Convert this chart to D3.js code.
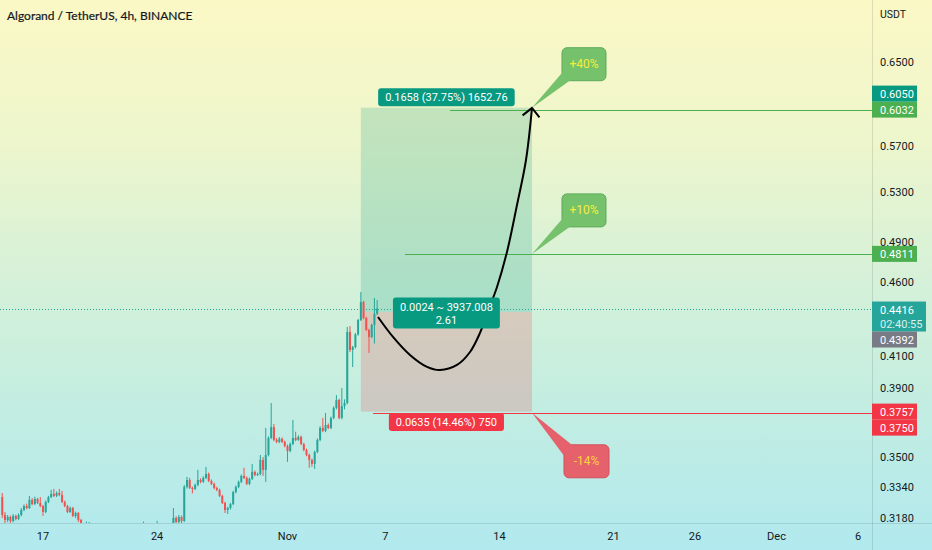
<!DOCTYPE html>
<html>
<head>
<meta charset="utf-8">
<script src="https://cdn.jsdelivr.net/npm/d3@7"></script>
<style>
  html, body { margin: 0; padding: 0; }
  body { width: 932px; height: 550px; overflow: hidden; }
  svg { display: block; }
</style>
</head>
<body>
<svg id="chart" width="932" height="550"></svg>
<script>
// ---- data ----
const title = "Algorand / TetherUS, 4h, BINANCE"
const quote = "USDT"
const firstBar = "2022-10-14T12:00:00Z"   // 4h bars from here
// [open, high, low, close]
const ohlc = [
  [0.3286,0.3307,0.3180,0.3195],[0.3195,0.3210,0.3151,0.3170],[0.3170,0.3195,0.3160,0.3185],[0.3185,0.3192,0.3155,0.3165],
  [0.3165,0.3200,0.3158,0.3190],[0.3190,0.3196,0.3168,0.3175],[0.3175,0.3203,0.3170,0.3195],[0.3195,0.3230,0.3188,0.3220],
  [0.3220,0.3248,0.3214,0.3240],[0.3240,0.3252,0.3224,0.3230],[0.3230,0.3292,0.3225,0.3271],[0.3271,0.3281,0.3244,0.3250],
  [0.3250,0.3288,0.3245,0.3276],[0.3276,0.3282,0.3250,0.3256],[0.3256,0.3286,0.3234,0.3240],[0.3240,0.3246,0.3190,0.3210],
  [0.3210,0.3268,0.3204,0.3261],[0.3261,0.3292,0.3255,0.3286],[0.3286,0.3323,0.3280,0.3302],[0.3302,0.3328,0.3286,0.3292],
  [0.3292,0.3315,0.3286,0.3307],[0.3307,0.3328,0.3290,0.3297],[0.3297,0.3318,0.3255,0.3261],[0.3261,0.3268,0.3234,0.3240],
  [0.3240,0.3246,0.3204,0.3210],[0.3210,0.3238,0.3205,0.3230],[0.3230,0.3236,0.3185,0.3190],[0.3190,0.3212,0.3180,0.3205],
  [0.3205,0.3210,0.3160,0.3170],[0.3170,0.3176,0.3130,0.3141],[0.3141,0.3150,0.3110,0.3118],[0.3118,0.3162,0.3105,0.3125],
  [0.3125,0.3160,0.3112,0.3130],[0.3130,0.3145,0.3095,0.3102],[0.3102,0.3120,0.3080,0.3088],[0.3088,0.3105,0.3070,0.3095],
  [0.3095,0.3112,0.3082,0.3090],[0.3090,0.3098,0.3060,0.3068],[0.3068,0.3085,0.3052,0.3078],[0.3078,0.3096,0.3070,0.3085],
  [0.3085,0.3100,0.3066,0.3072],[0.3072,0.3080,0.3040,0.3050],[0.3050,0.3088,0.3035,0.3080],[0.3080,0.3095,0.3064,0.3070],
  [0.3070,0.3082,0.3048,0.3058],[0.3058,0.3076,0.3045,0.3068],[0.3068,0.3092,0.3060,0.3086],[0.3086,0.3104,0.3075,0.3094],
  [0.3094,0.3112,0.3080,0.3088],[0.3088,0.3118,0.3082,0.3108],[0.3108,0.3130,0.3096,0.3120],[0.3120,0.3138,0.3102,0.3112],
  [0.3112,0.3162,0.3105,0.3132],[0.3132,0.3145,0.3110,0.3118],[0.3118,0.3128,0.3092,0.3100],[0.3100,0.3124,0.3090,0.3115],
  [0.3115,0.3135,0.3106,0.3126],[0.3126,0.3166,0.3118,0.3136],[0.3136,0.3148,0.3112,0.3120],[0.3120,0.3132,0.3098,0.3108],
  [0.3108,0.3126,0.3094,0.3118],[0.3118,0.3140,0.3110,0.3128],[0.3128,0.3142,0.3116,0.3131],[0.3131,0.3230,0.3121,0.3180],
  [0.3180,0.3188,0.3150,0.3160],[0.3160,0.3195,0.3155,0.3185],[0.3185,0.3192,0.3155,0.3165],[0.3165,0.3349,0.3160,0.3339],
  [0.3339,0.3392,0.3330,0.3375],[0.3375,0.3386,0.3328,0.3333],[0.3333,0.3340,0.3305,0.3328],[0.3328,0.3356,0.3322,0.3349],
  [0.3349,0.3429,0.3342,0.3375],[0.3375,0.3384,0.3358,0.3365],[0.3365,0.3395,0.3360,0.3386],[0.3386,0.3445,0.3380,0.3407],
  [0.3407,0.3415,0.3364,0.3370],[0.3370,0.3378,0.3348,0.3354],[0.3354,0.3362,0.3326,0.3333],[0.3333,0.3340,0.3316,0.3323],
  [0.3323,0.3330,0.3286,0.3292],[0.3292,0.3298,0.3250,0.3256],[0.3256,0.3262,0.3205,0.3220],[0.3220,0.3236,0.3200,0.3230],
  [0.3230,0.3256,0.3222,0.3250],[0.3250,0.3318,0.3244,0.3312],[0.3312,0.3346,0.3305,0.3339],[0.3339,0.3372,0.3332,0.3365],
  [0.3365,0.3404,0.3358,0.3397],[0.3397,0.3440,0.3380,0.3386],[0.3386,0.3394,0.3348,0.3354],[0.3354,0.3388,0.3348,0.3381],
  [0.3381,0.3461,0.3375,0.3418],[0.3418,0.3425,0.3395,0.3402],[0.3402,0.3415,0.3396,0.3407],[0.3407,0.3510,0.3400,0.3483],
  [0.3483,0.3499,0.3397,0.3429],[0.3429,0.3662,0.3365,0.3510],[0.3510,0.3614,0.3502,0.3605],[0.3605,0.3808,0.3598,0.3667],
  [0.3667,0.3685,0.3586,0.3594],[0.3594,0.3605,0.3575,0.3583],[0.3583,0.3610,0.3576,0.3600],[0.3600,0.3608,0.3576,0.3583],
  [0.3583,0.3590,0.3552,0.3560],[0.3560,0.3568,0.3472,0.3532],[0.3532,0.3580,0.3525,0.3571],[0.3571,0.3708,0.3564,0.3605],
  [0.3605,0.3640,0.3586,0.3594],[0.3594,0.3620,0.3588,0.3611],[0.3611,0.3618,0.3564,0.3571],[0.3571,0.3578,0.3530,0.3538],
  [0.3538,0.3545,0.3503,0.3510],[0.3510,0.3518,0.3440,0.3483],[0.3483,0.3490,0.3445,0.3461],[0.3461,0.3534,0.3434,0.3527],
  [0.3527,0.3602,0.3520,0.3594],[0.3594,0.3672,0.3586,0.3662],[0.3662,0.3720,0.3638,0.3645],[0.3645,0.3749,0.3638,0.3679],
  [0.3679,0.3688,0.3655,0.3662],[0.3662,0.3728,0.3655,0.3720],[0.3720,0.3788,0.3712,0.3779],[0.3779,0.3856,0.3770,0.3826],
  [0.3826,0.3834,0.3712,0.3720],[0.3720,0.3899,0.3712,0.3790],[0.3790,0.3830,0.3770,0.3808],[0.3808,0.4290,0.3800,0.4257],
  [0.4257,0.4296,0.4125,0.4138],[0.4138,0.4165,0.4029,0.4157],[0.4157,0.4250,0.4148,0.4240],[0.4240,0.4345,0.4232,0.4337],
  [0.4337,0.4532,0.4330,0.4461],[0.4461,0.4470,0.4342,0.4351],[0.4351,0.4360,0.4262,0.4270],[0.4270,0.4278,0.4119,0.4223],
  [0.4223,0.4312,0.4215,0.4304],[0.4304,0.4489,0.4180,0.4380],[0.4380,0.4475,0.4370,0.4416]
]

const priceTicks = [0.65, 0.57, 0.53, 0.49, 0.46, 0.41, 0.39, 0.35, 0.334, 0.318]
const dateTicks = ["2022-10-17","2022-10-24","2022-11-01","2022-11-07","2022-11-14","2022-11-21","2022-11-26","2022-12-01","2022-12-06"]
const dateLabels = ["17","24","Nov","7","14","21","26","Dec","6"]

const lastPrice = 0.4416
const countdown = "02:40:55"

// long position tool
const boxStart = "2022-11-05T12:00:00Z"
const boxEnd = "2022-11-16T00:00:00Z"
const entryPrice = 0.4392
const targetPrice = 0.6050
const stopPrice = 0.3757
const targetText = ["0.1658 (37.75%) 1652.76"]
const entryText = ["0.0024 ~ 3937.008", "2.61"]
const stopText = ["0.0635 (14.46%) 750"]

// horizontal levels and their callouts
const levelPrices = [0.6032, 0.4811, 0.3750]
const levelStarts = ["2022-11-10T23:15:00Z", "2022-11-08T05:00:00Z", "2022-11-06T06:00:00Z"]
const calloutTexts = ["+40%", "+10%", "-14%"]
const calloutPrices = [0.6050, 0.4811, 0.3750]

// hand drawn arrow
const pathDates = ["2022-11-06T13:15Z","2022-11-07T11:20Z","2022-11-08T12:20Z","2022-11-09T13:25Z","2022-11-10T08:30Z",
  "2022-11-11T09:35Z","2022-11-12T04:45Z","2022-11-12T19:25Z","2022-11-13T07:15Z","2022-11-13T20:30Z",
  "2022-11-14T11:10Z","2022-11-15T01:55Z","2022-11-15T15:10Z","2022-11-16T00:00Z"]
const pathPrices = [0.4358,0.4224,0.4106,0.4030,0.4010,0.4042,0.4125,0.4250,0.4399,0.4568,0.4826,0.5194,0.5574,0.6048]

// ---- drawing ----
const W = 932, H = 550
const plotW = 872, plotH = 523
const up = "#26a69a", down = "#ef5350"
const green = "#4caf50", red = "#f23645", teal = "#089981"
const ink = "#131722"
const font = "Roboto, 'Liberation Sans', sans-serif"

const x = d3.scaleUtc()
  .domain([new Date("2022-10-14T08:41:00Z"), new Date("2022-12-06T20:38:00Z")])
  .range([0, plotW])

const y = d3.scaleLog()
  .domain([0.7163, 0.3155])
  .range([0, plotH])

const svg = d3.select("#chart")
const defs = svg.append("defs")

const grad = defs.append("linearGradient").attr("id", "bg")
  .attr("x1", 0).attr("y1", 0).attr("x2", 0).attr("y2", 1)
grad.selectAll("stop")
  .data([[0, "#fbf8c5"], [0.25, "#eef6cc"], [0.5, "#d6f1d8"], [0.75, "#c2ede2"], [1, "#b1e9ee"]])
  .join("stop")
  .attr("offset", d => d[0])
  .attr("stop-color", d => d[1])

defs.append("clipPath").attr("id", "plot")
  .append("rect").attr("width", plotW).attr("height", plotH)

svg.append("rect").attr("width", W).attr("height", H).attr("fill", "url(#bg)")

const plot = svg.append("g").attr("clip-path", "url(#plot)")

// position box
const bx0 = x(new Date(boxStart)), bx1 = x(new Date(boxEnd))
plot.append("rect")
  .attr("x", bx0).attr("width", bx1 - bx0)
  .attr("y", y(targetPrice)).attr("height", y(entryPrice) - y(targetPrice))
  .attr("fill", "rgba(8,153,129,0.2)")
plot.append("rect")
  .attr("x", bx0).attr("width", bx1 - bx0)
  .attr("y", y(entryPrice)).attr("height", y(stopPrice) - y(entryPrice))
  .attr("fill", "rgba(242,54,69,0.2)")

// levels
const levelColors = [green, green, red]
plot.selectAll("line.level")
  .data(levelPrices)
  .join("line")
  .attr("class", "level")
  .attr("x1", (d, i) => x(new Date(levelStarts[i])))
  .attr("x2", plotW)
  .attr("y1", d => Math.round(y(d)) + 0.5)
  .attr("y2", d => Math.round(y(d)) + 0.5)
  .attr("stroke", (d, i) => levelColors[i])
  .attr("stroke-width", 1)

// last price dotted line
plot.append("line")
  .attr("x1", 0).attr("x2", plotW)
  .attr("y1", Math.round(y(lastPrice)) + 0.5).attr("y2", Math.round(y(lastPrice)) + 0.5)
  .attr("stroke", up).attr("stroke-dasharray", "1 2")

// candles
const t0 = new Date(firstBar).getTime()
const bars = ohlc.map((d, i) => ({ t: new Date(t0 + i * 4 * 3600e3), o: d[0], h: d[1], l: d[2], c: d[3] }))

plot.selectAll("line.wick")
  .data(bars)
  .join("line")
  .attr("class", "wick")
  .attr("x1", d => x(d.t)).attr("x2", d => x(d.t))
  .attr("y1", d => y(d.h)).attr("y2", d => y(d.l))
  .attr("stroke", d => d.c >= d.o ? up : down)
  .attr("stroke-width", 1)

plot.selectAll("rect.body")
  .data(bars)
  .join("rect")
  .attr("class", "body")
  .attr("x", d => x(d.t) - 1)
  .attr("width", 2)
  .attr("y", d => y(Math.max(d.o, d.c)))
  .attr("height", d => Math.max(1, Math.abs(y(d.o) - y(d.c))))
  .attr("fill", d => d.c >= d.o ? up : down)

// arrow
const pts = pathDates.map((d, i) => [x(new Date(d)), y(pathPrices[i])])
plot.append("path")
  .attr("d", d3.line().curve(d3.curveCatmullRom.alpha(0.5))(pts))
  .attr("fill", "none").attr("stroke", "#000").attr("stroke-width", 2)

const tip = pts[pts.length - 1], prev = pts[pts.length - 2]
const ang = Math.atan2(prev[1] - tip[1], prev[0] - tip[0])
const head = [ang - Math.PI / 4, ang + Math.PI / 4].map(a => [tip[0] + 12 * Math.cos(a), tip[1] + 12 * Math.sin(a)])
plot.append("path")
  .attr("d", `M${head[0]}L${tip}L${head[1]}`)
  .attr("fill", "none").attr("stroke", "#000").attr("stroke-width", 2)

// position labels
const tag = (cx, cy, lines, fill) => {
  const g = svg.append("g")
  const r = g.append("rect")
  const t = g.append("text")
    .attr("text-anchor", "middle").attr("fill", "#fff")
    .style("font", `11px ${font}`)
  lines.forEach((s, k) => t.append("tspan")
    .attr("x", cx)
    .attr("y", cy + 4 + (k - (lines.length - 1) / 2) * 13)
    .text(s))
  const w = t.node().getBBox().width + 14
  const h = lines.length * 13 + 5
  r.attr("x", cx - w / 2).attr("y", cy - h / 2)
    .attr("width", w).attr("height", h)
    .attr("rx", 3).attr("fill", fill)
}
const bcx = (bx0 + bx1) / 2
tag(bcx, y(targetPrice) - 10.5, targetText, teal)
tag(bcx, y(entryPrice) + 1, entryText, teal)
tag(bcx, y(stopPrice) + 10.5, stopText, red)

// callouts
const calloutFill = ["#76c26c", "#76c26c", "#e5616c"]
const calloutStroke = ["#5eaa5a", "#5eaa5a", "#d24f5b"]
const calloutInk = ["#f6ec3c", "#f6ec3c", "#ffd040"]
calloutPrices.forEach((p, i) => {
  const tx = bx1, ty = y(p)
  const below = p < entryPrice
  const rx = tx + (below ? 32 : 30)
  const ry = below ? ty + 32 : ty - 60
  const rw = below ? 45 : 44, rh = 33
  const tail = below
    ? [[tx, ty], [rx, ry + 11], [rx + 9, ry + 1]]
    : [[tx, ty], [rx + 1, ry + 24], [rx + 9, ry + rh - 1]]
  const g = svg.append("g")
  g.append("rect").attr("x", rx).attr("y", ry).attr("width", rw).attr("height", rh)
    .attr("rx", 5).attr("fill", calloutFill[i]).attr("stroke", calloutStroke[i])
  g.append("path").attr("d", "M" + tail.join("L") + "Z").attr("fill", calloutFill[i])
  g.append("text")
    .attr("x", rx + rw / 2).attr("y", ry + rh / 2 + 4)
    .attr("text-anchor", "middle").attr("fill", calloutInk[i])
    .style("font", `12px ${font}`)
    .text(calloutTexts[i])
})

// separators
svg.append("line").attr("x1", plotW + 0.5).attr("x2", plotW + 0.5).attr("y1", 0).attr("y2", H)
  .attr("stroke", "rgba(19,23,34,0.12)")
svg.append("line").attr("x1", 0).attr("x2", W).attr("y1", plotH + 0.5).attr("y2", plotH + 0.5)
  .attr("stroke", "rgba(19,23,34,0.12)")

// price axis
const yAxis = svg.append("g").attr("transform", `translate(${plotW},0)`)
yAxis.selectAll("text.tick")
  .data(priceTicks)
  .join("text")
  .attr("class", "tick")
  .attr("x", 8)
  .attr("y", d => y(d) + 4)
  .attr("fill", ink)
  .style("font", `11px ${font}`)
  .text(d => d3.format(".4f")(d))

yAxis.append("text").attr("x", 8).attr("y", 18).attr("fill", ink)
  .style("font", `10.5px ${font}`).text(quote)

// axis price tags, stacked so they do not overlap
const f4 = d3.format(".4f")
const axisTags = [
  { price: levelPrices[0], lines: [f4(levelPrices[0])], fill: green, w: 45 },
  { price: levelPrices[1], lines: [f4(levelPrices[1])], fill: green, w: 45 },
  { price: lastPrice, lines: [f4(lastPrice), countdown], fill: up, w: 54 },
  { price: stopPrice, lines: [f4(stopPrice)], fill: red, w: 45 },
  { price: targetPrice, lines: [f4(targetPrice)], fill: teal, w: 45 },
  { price: entryPrice, lines: [f4(entryPrice)], fill: "#787b86", w: 45 },
  { price: levelPrices[2], lines: [f4(levelPrices[2])], fill: red, w: 45 }
]
const placed = []
axisTags.forEach(tg => {
  const h = tg.lines.length > 1 ? 30 : 16
  let top = y(tg.price) - (tg.lines.length > 1 ? 7 : 8)
  placed.forEach(p => {
    if (top < p.top + p.h && top + h > p.top) top = tg.price > p.price ? p.top - h : p.top + p.h
  })
  placed.push({ price: tg.price, top, h })
  const g = yAxis.append("g")
  g.append("rect").attr("x", 0).attr("y", top).attr("width", tg.w).attr("height", h).attr("fill", tg.fill)
  const t = g.append("text").attr("fill", "#fff").style("font", `11px ${font}`)
  tg.lines.forEach((s, k) => t.append("tspan").attr("x", 8).attr("y", top + 12 + k * 14)
    .attr("fill-opacity", k ? 0.85 : 1).text(s))
})

// time axis
svg.append("g").selectAll("text")
  .data(dateTicks)
  .join("text")
  .attr("x", d => x(new Date(d + "T00:00:00Z")))
  .attr("y", 540)
  .attr("text-anchor", "middle")
  .attr("fill", ink)
  .style("font", `11px ${font}`)
  .text((d, i) => dateLabels[i])

// title
svg.append("text").attr("x", 7).attr("y", 20).attr("fill", ink)
  .style("font", "12px Lato, sans-serif")
  .style("stroke", ink).style("stroke-width", 0.2)
  .text(title)
</script>
</body>
</html>
